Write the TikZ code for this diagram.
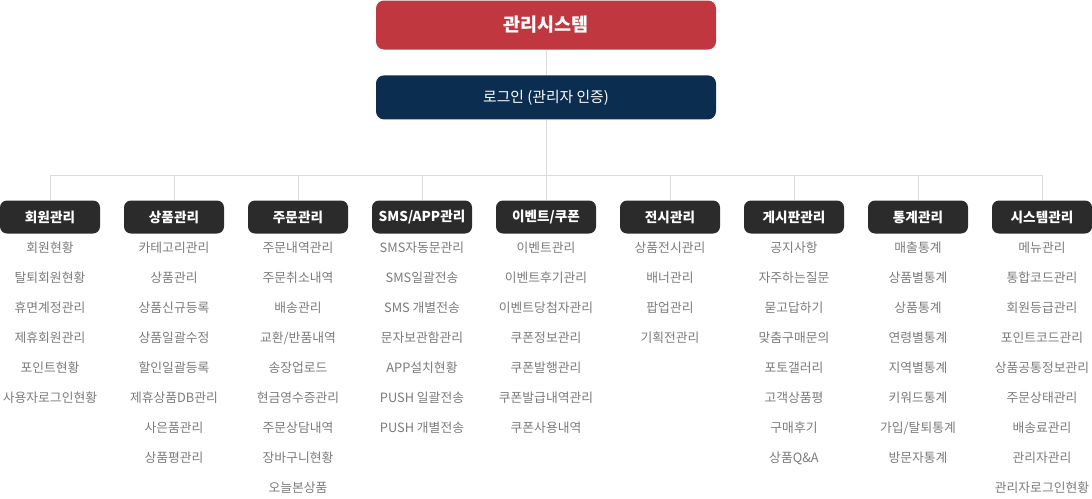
\documentclass[tikz,border=0pt]{standalone}
\usepackage{fontspec}
\setmainfont{Noto Sans CJK KR}
\usetikzlibrary{positioning}
\definecolor{sysred}{HTML}{C1373F}
\definecolor{loginblue}{HTML}{0A2D50}
\definecolor{catgray}{HTML}{2B2B2B}
\definecolor{itemgray}{HTML}{7B7B7B}
\definecolor{linegray}{HTML}{DCDCDC}
\tikzset{
  sysbox/.style={fill=sysred, text=white, rounded corners=8pt, inner sep=0pt,
    minimum width=340pt, minimum height=49pt, font=\fontsize{18.5}{22}\selectfont\bfseries},
  loginbox/.style={fill=loginblue, text=white, rounded corners=8pt, inner sep=0pt,
    minimum width=340pt, minimum height=44pt, font=\fontsize{14.8}{17}\selectfont},
  catbox/.style={fill=catgray, text=white, rounded corners=7pt, inner sep=0pt,
    minimum width=100pt, minimum height=33pt, font=\fontsize{13.6}{16}\selectfont\bfseries},
  item/.style={text=itemgray, inner sep=0pt, font=\fontsize{12.8}{15}\selectfont},
  tree/.style={draw=linegray, line width=1pt}
}
\begin{document}
\begin{tikzpicture}[x=1pt, y=-1pt]
  \useasboundingbox (0,0) rectangle (1092,498);
  %--- Top
  \node[sysbox] (sys) at (546,25) {관리시스템};
  \node[loginbox, below = 25.5pt of sys] (login) {로그인 (관리자 인증)};
  %--- Categories
  \node[catbox] (cat1) at (50,217) {회원관리};
  \node[catbox] (cat2) at (174,217) {상품관리};
  \node[catbox] (cat3) at (298,217) {주문관리};
  \node[catbox] (cat4) at (422,217) {SMS/APP관리};
  \node[catbox] (cat5) at (546,217) {이벤트/쿠폰};
  \node[catbox] (cat6) at (670,217) {전시관리};
  \node[catbox] (cat7) at (794,217) {게시판관리};
  \node[catbox] (cat8) at (918,217) {통계관리};
  \node[catbox] (cat9) at (1042,217) {시스템관리};
  %--- Tree lines
  \coordinate (bus) at (546,175);
  \draw[tree] (sys) -- (login);
  \draw[tree] (login) -- (bus);
  \draw[tree] (cat1.north |- bus) -- (cat9.north |- bus);
  \foreach \i in {1,...,9}
    \draw[tree] (cat\i.north) -- (cat\i.north |- bus);
  %--- Items
  \foreach \txt [count=\j] in {회원현황,탈퇴회원현황,휴면계정관리,제휴회원관리,포인트현황,사용자로그인현황}
    \node[item] (m1-\j) at (50,{218+30*\j}) {\txt};
  \foreach \txt [count=\j] in {카테고리관리,상품관리,상품신규등록,상품일괄수정,할인일괄등록,제휴상품DB관리,사은품관리,상품평관리}
    \node[item] (m2-\j) at (174,{218+30*\j}) {\txt};
  \foreach \txt [count=\j] in {주문내역관리,주문취소내역,배송관리,교환/반품내역,송장업로드,현금영수증관리,주문상담내역,장바구니현황,오늘본상품}
    \node[item] (m3-\j) at (298,{218+30*\j}) {\txt};
  \foreach \txt [count=\j] in {SMS자동문관리,SMS일괄전송,SMS 개별전송,문자보관함관리,APP설치현황,PUSH 일괄전송,PUSH 개별전송}
    \node[item] (m4-\j) at (422,{218+30*\j}) {\txt};
  \foreach \txt [count=\j] in {이벤트관리,이벤트후기관리,이벤트당첨자관리,쿠폰정보관리,쿠폰발행관리,쿠폰발급내역관리,쿠폰사용내역}
    \node[item] (m5-\j) at (546,{218+30*\j}) {\txt};
  \foreach \txt [count=\j] in {상품전시관리,배너관리,팝업관리,기획전관리}
    \node[item] (m6-\j) at (670,{218+30*\j}) {\txt};
  \foreach \txt [count=\j] in {공지사항,자주하는질문,묻고답하기,맞춤구매문의,포토갤러리,고객상품평,구매후기,상품Q\&A}
    \node[item] (m7-\j) at (794,{218+30*\j}) {\txt};
  \foreach \txt [count=\j] in {매출통계,상품별통계,상품통계,연령별통계,지역별통계,키워드통계,가입/탈퇴통계,방문자통계}
    \node[item] (m8-\j) at (918,{218+30*\j}) {\txt};
  \foreach \txt [count=\j] in {메뉴관리,통합코드관리,회원등급관리,포인트코드관리,상품공통정보관리,주문상태관리,배송료관리,관리자관리,관리자로그인현황}
    \node[item] (m9-\j) at (1042,{218+30*\j}) {\txt};
\end{tikzpicture}
\end{document}
